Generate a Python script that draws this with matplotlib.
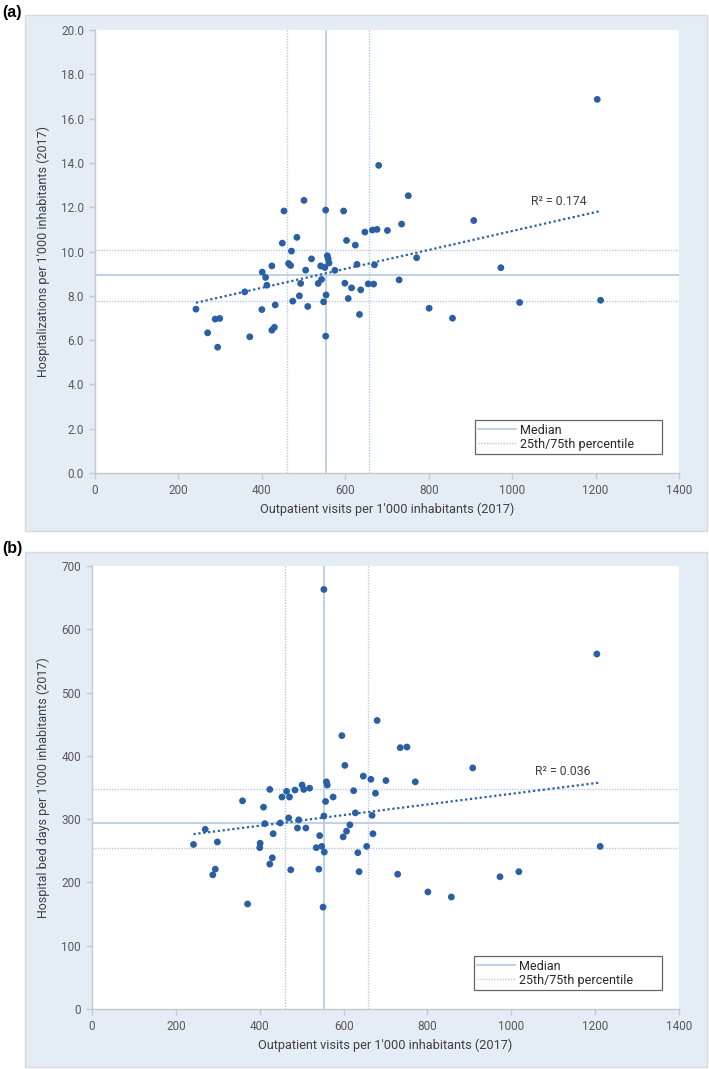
import numpy as np
import matplotlib
matplotlib.use("Agg")
from matplotlib import pyplot as plt
from matplotlib.patches import Rectangle

# outpatient visits per 1'000 inhabitants (2017), one value per region
outpatient = [242, 270, 288, 294, 299, 359, 371, 400, 401, 409, 412, 424, 424, 430,
              432, 449, 453, 464, 469, 471, 474, 484, 490, 493, 501, 505, 510, 519,
              535, 541, 543, 548, 551, 553, 553, 554, 557, 559, 561, 575, 596, 599,
              603, 607, 615, 624, 628, 634, 637, 647, 655, 665, 668, 670, 676, 680,
              701, 729, 735, 751, 771, 801, 857, 908, 973, 1018, 1204, 1212]

# hospitalizations per 1'000 inhabitants
hospitalizations = [7.40, 6.33, 6.95, 5.68, 6.98, 8.18, 6.15, 7.38, 9.07, 8.83, 8.48,
                    9.35, 6.45, 6.58, 7.59, 10.38, 11.83, 9.46, 9.37, 10.02, 7.76,
                    10.64, 8.00, 8.56, 12.31, 9.16, 7.52, 9.67, 8.56, 9.35, 8.74,
                    7.73, 9.28, 6.18, 11.87, 8.04, 9.81, 9.67, 9.48, 9.15, 11.83,
                    8.57, 10.50, 7.88, 8.36, 10.29, 9.42, 7.16, 8.27, 10.88, 8.54,
                    10.97, 8.53, 9.40, 11.00, 13.89, 10.95, 8.72, 11.24, 12.52, 9.72,
                    7.44, 6.99, 11.40, 9.27, 7.70, 16.87, 7.80]

# hospital bed days per 1'000 inhabitants
bed_days = [260, 284, 212, 221, 264, 329, 166, 255, 262, 319, 293, 229, 347, 239,
            277, 294, 335, 344, 302, 335, 220, 346, 286, 299, 354, 347, 286, 349,
            255, 221, 274, 257, 161, 305, 663, 248, 328, 359, 354, 335, 432, 272,
            385, 281, 291, 345, 310, 247, 217, 368, 257, 363, 306, 277, 341, 456,
            361, 213, 413, 414, 359, 185, 177, 381, 209, 217, 561, 257]

r2_labels = ["R² = 0.174", "R² = 0.036"]

dot_col = "#2b5fa3"
ref_col = "#b4c8e6"
box_col = "#e4ecf6"
tick_col = "#595959"

plt.rcParams["font.family"] = ["Roboto", "DejaVu Sans"]

fig = plt.figure(figsize=(7.09, 10.69), dpi=100)

# light blue chart-area boxes, behind the axes
for bottom, height in [(0.5033, 0.4827), (0.0019, 0.4818)]:
    fig.patches.append(Rectangle((0.0353, bottom), 0.962, height, transform=fig.transFigure,
                                 facecolor=box_col, edgecolor="#d6dbe2", linewidth=1.0, zorder=-10))

ax_a = fig.add_axes([0.134, 0.5575, 0.8237, 0.4144])
ax_b = fig.add_axes([0.1298, 0.0561, 0.8279, 0.4144])

x = np.array(outpatient, dtype=float)


def draw_panel(ax, y, ylim, ystep, yfmt, ylabel, r2, r2_pos):
    y = np.array(y, dtype=float)
    ax.set_facecolor("white")

    med_x = np.median(x)
    q_x = np.percentile(x, [25, 75])
    med_y = np.median(y)
    q_y = np.percentile(y, [25, 75])

    ax.axvline(med_x, color=ref_col, lw=1.2, zorder=1)
    ax.axhline(med_y, color=ref_col, lw=1.2, zorder=1, label="Median")
    for q in q_x:
        ax.axvline(q, color=ref_col, lw=1.0, ls=(0, (1, 1)), zorder=1)
    for i, q in enumerate(q_y):
        ax.axhline(q, color=ref_col, lw=1.0, ls=(0, (1, 1)), zorder=1,
                   label="25th/75th percentile" if i == 0 else None)

    ax.scatter(x, y, s=24, color=dot_col, edgecolors="none", zorder=3)

    # linear trend line
    k, c = np.polyfit(x, y, 1)
    xs = np.array([x.min(), x.max()])
    ax.plot(xs, k * xs + c, color=dot_col, lw=1.6, ls=(0, (1, 1.2)), zorder=2)
    ax.text(r2_pos[0], r2_pos[1], r2, fontsize=8.8, color="#404040", va="center", ha="left")

    ax.set_xlim(0, 1400)
    ax.set_xticks(np.arange(0, 1401, 200))
    ax.set_ylim(*ylim)
    ax.set_yticks(np.arange(ylim[0], ylim[1] + ystep / 2, ystep))
    ax.set_yticklabels([yfmt % v for v in ax.get_yticks()])

    for s in ["top", "right"]:
        ax.spines[s].set_visible(False)
    for s in ["left", "bottom"]:
        ax.spines[s].set_color("#c8c8c8")
        ax.spines[s].set_linewidth(1.0)
    ax.tick_params(axis="both", colors="#c8c8c8", labelcolor=tick_col, labelsize=8.5,
                   length=4, width=1.0, direction="out", pad=4)

    ax.set_xlabel("Outpatient visits per 1'000 inhabitants (2017)", fontsize=9.2, color="#404040", labelpad=4)
    ax.set_ylabel(ylabel, fontsize=9, color="#404040", labelpad=8)

    leg = ax.legend(loc="lower left", bbox_to_anchor=(0.651, 0.043, 0.32, 0.086), mode="expand",
                    fontsize=9, frameon=True, fancybox=False, handlelength=3.0, handletextpad=0.3,
                    borderpad=0.25, labelspacing=0.1, borderaxespad=0)
    leg.get_frame().set_edgecolor("#404040")
    leg.get_frame().set_linewidth(0.9)
    for t in leg.get_texts():
        t.set_color("#262626")


draw_panel(ax_a, hospitalizations, (0, 20), 2, "%.1f",
           "Hospitalizations per 1'000 inhabitants (2017)", r2_labels[0], (1045, 12.25))
draw_panel(ax_b, bed_days, (0, 700), 100, "%d",
           "Hospital bed days per 1'000 inhabitants (2017)", r2_labels[1], (1057, 376))

fig.text(0.003, 0.9885, "(a)", fontsize=11.5, fontweight="bold", family="Liberation Sans",
         va="center", ha="left", color="black")
fig.text(0.003, 0.487, "(b)", fontsize=11.5, fontweight="bold", family="Liberation Sans",
         va="center", ha="left", color="black")

fig.savefig("out.png", dpi=100)
